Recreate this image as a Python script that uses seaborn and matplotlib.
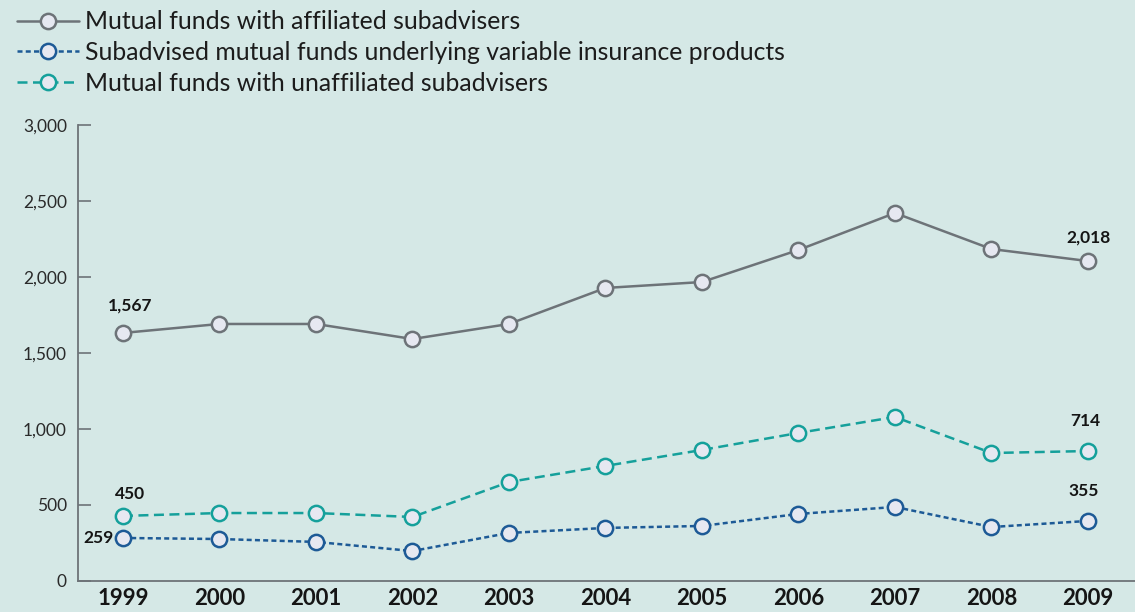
import matplotlib
matplotlib.use("Agg")
import matplotlib.pyplot as plt
import seaborn as sns
import pandas as pd

# Data
years = [1999, 2000, 2001, 2002, 2003, 2004, 2005, 2006, 2007, 2008, 2009]
affiliated = [1632, 1691, 1691, 1592, 1691, 1928, 1967, 2178, 2421, 2184, 2105]
variable_ins = [283, 276, 257, 197, 316, 349, 362, 441, 487, 355, 395]
unaffiliated = [428, 447, 447, 421, 651, 757, 862, 974, 1079, 842, 855]

series_names = [
    "Mutual funds with affiliated subadvisers",
    "Subadvised mutual funds underlying variable insurance products",
    "Mutual funds with unaffiliated subadvisers",
]
yticks = [0, 500, 1000, 1500, 2000, 2500, 3000]
ytick_labels = ["0", "500", "1,000", "1,500", "2,000", "2,500", "3,000"]

# printed labels on the end points
end_labels = {
    "affiliated": ("1,567", "2,018"),
    "variable": ("259", "355"),
    "unaffiliated": ("450", "714"),
}

bg = "#d5e8e6"
face = "#e6e8f1"
grey = "#6d7378"
blue = "#1d5a96"
teal = "#15a09b"

sns.set_theme(style="white")
plt.rcParams["font.family"] = ["Lato", "DejaVu Sans"]

fig = plt.figure(figsize=(11.35, 6.12), dpi=100)
fig.patch.set_facecolor(bg)
ax = fig.add_axes([0.0687, 0.0507, 0.9313, 0.745])
ax.set_facecolor(bg)

df = pd.DataFrame({"year": years, "aff": affiliated, "var": variable_ins, "unaff": unaffiliated})

styles = [
    ("aff", grey, grey, "-"),
    ("var", blue, blue, (0, (2, 1.3))),
    ("unaff", teal, teal, (0, (4, 2.2))),
]
for (col, lc, ec, ls), name in zip(styles, series_names):
    sns.lineplot(data=df, x="year", y=col, ax=ax, color=lc, linestyle=ls,
                 linewidth=1.8, marker="o", markersize=11,
                 markerfacecolor=face, markeredgecolor=ec, markeredgewidth=1.8,
                 label=name, zorder=3)

ax.set_xlim(1998.534, 2009.487)
ax.set_ylim(0, 3000)
ax.set_xlabel("")
ax.set_ylabel("")

ax.set_yticks(yticks)
ax.set_yticklabels(ytick_labels)
ax.set_xticks(years)
ax.set_xticklabels([str(y) for y in years], fontweight="bold", fontsize=16)
ax.tick_params(axis="y", direction="in", length=9.5, width=1.2, color=grey,
               labelsize=12.5, labelcolor="#2a2a2a", pad=8, left=True)
ax.tick_params(axis="x", length=0, pad=5, labelcolor="#151515")

for s in ["top", "right"]:
    ax.spines[s].set_visible(False)
for s in ["left", "bottom"]:
    ax.spines[s].set_color(grey)
    ax.spines[s].set_linewidth(1.3)

# annotations
ann_kw = dict(textcoords="offset points", fontweight="bold", fontsize=12.5, color="#151515")
ax.annotate(end_labels["affiliated"][0], (years[0], affiliated[0]), xytext=(5, 14), ha="center", va="bottom", **ann_kw)
ax.annotate(end_labels["affiliated"][1], (years[-1], affiliated[-1]), xytext=(0, 11), ha="center", va="bottom", **ann_kw)
ax.annotate(end_labels["unaffiliated"][0], (years[0], unaffiliated[0]), xytext=(5, 10), ha="center", va="bottom", **ann_kw)
ax.annotate(end_labels["unaffiliated"][1], (years[-1], unaffiliated[-1]), xytext=(-2, 16), ha="center", va="bottom", **ann_kw)
ax.annotate(end_labels["variable"][0], (years[0], variable_ins[0]), xytext=(-7, 0), ha="right", va="center", **ann_kw)
ax.annotate(end_labels["variable"][1], (years[-1], variable_ins[-1]), xytext=(-3, 16), ha="center", va="bottom", **ann_kw)

ax.legend(loc="upper left", bbox_to_anchor=(0.015, 0.983), bbox_transform=fig.transFigure,
          frameon=False, fontsize=17.8, handlelength=2.5, handletextpad=0.25,
          labelspacing=0.31, borderaxespad=0, borderpad=0, labelcolor="#1c1c1c")

fig.savefig("out.png", dpi=100, facecolor=bg)
